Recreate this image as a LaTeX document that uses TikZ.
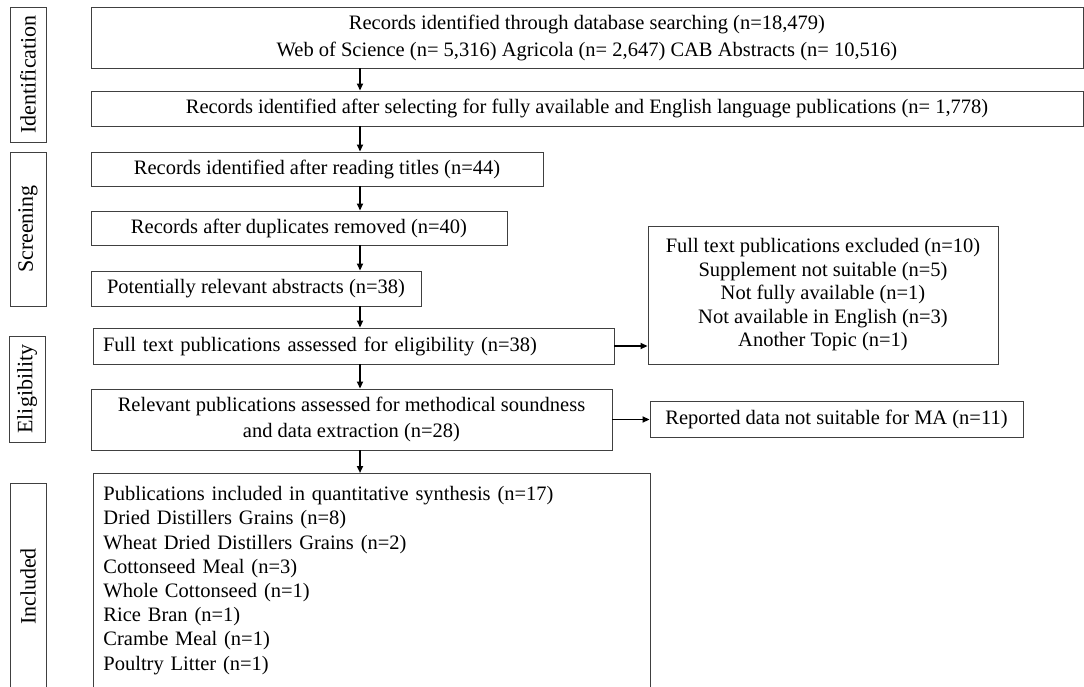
\documentclass[tikz,border=0pt]{standalone}
\usepackage{fontspec}
\setmainfont{Liberation Serif}
\usepackage{xcolor}
\usepackage{tikz}
\usetikzlibrary{arrows.meta,positioning}
\definecolor{boxline}{HTML}{404040}

\tikzset{
  flowbox/.style={draw=boxline, line width=0.9pt, inner sep=0pt, align=center,
    font=\fontsize{20.5}{23.5}\selectfont},
  leftbox/.style={flowbox, inner xsep=10pt, align=left},
  phasebox/.style={draw=boxline, line width=0.9pt, inner sep=0pt, rotate=90,
    minimum height=36pt, font=\fontsize{22}{24}\selectfont},
  flowarrow/.style={-{Triangle[length=7pt,width=6pt]}, line width=1.8pt}
}

\begin{document}
\begin{tikzpicture}[x=1pt, y=-1pt]
\path[use as bounding box, clip] (0,0) rectangle (1084,687);

% phase labels on the left
\node[phasebox, minimum width=135pt] (ident) at (28,74.5) {Identification};
\node[phasebox, minimum width=154pt] (screen) at (28,229) {Screening};
\node[phasebox, minimum width=106pt] (elig) at (27,389) {Eligibility};
\node[phasebox, minimum width=207pt] (incl) at (28,586.5) {Included};

% main column
\node[flowbox, minimum width=992pt, minimum height=61pt,
  font=\fontsize{20.5}{27}\selectfont] (rec) at (587,37.5)
  {Records identified through database searching (n=18,479)\\
   Web of Science (n= 5,316) Agricola (n= 2,647) CAB Abstracts (n= 10,516)};
\node[flowbox, minimum width=992pt, minimum height=35pt] (avail) at (587,108.5)
  {Records identified after selecting for fully available and English language publications (n= 1,778)};
\node[flowbox, minimum width=452pt, minimum height=34pt] (titles) at (317,169)
  {Records identified after reading titles (n=44)};
\node[flowbox, minimum width=416pt, minimum height=34pt] (dupl) at (299,228)
  {Records after duplicates removed (n=40)};
\node[flowbox, minimum width=330pt, minimum height=35pt] (abstr) at (256,288.5)
  {Potentially relevant abstracts (n=38)};
\node[leftbox, text width=501pt, minimum height=36pt] (full) at (353.5,346)
  {Full text publications assessed for eligibility (n=38)};
\node[flowbox, minimum width=521pt, minimum height=61pt,
  font=\fontsize{20.5}{26}\selectfont] (relev) at (351.5,419.5)
  {Relevant publications assessed for methodical soundness\\
   and data extraction (n=28)};
\node[leftbox, text width=537pt, inner ysep=13pt, anchor=north west,
  font=\fontsize{20.5}{24.2}\selectfont] (synth) at (93,473)
  {Publications included in quantitative synthesis (n=17)\\
   Dried Distillers Grains (n=8)\\
   Wheat Dried Distillers Grains (n=2)\\
   Cottonseed Meal (n=3)\\
   Whole Cottonseed (n=1)\\
   Rice Bran (n=1)\\
   Crambe Meal (n=1)\\
   Poultry Litter (n=1)\rule[-30pt]{0pt}{0pt}};

% exclusions on the right
\node[flowbox, minimum width=350pt, minimum height=138pt] (excl) at (823,295)
  {Full text publications excluded (n=10)\\
   Supplement not suitable (n=5)\\
   Not fully available (n=1)\\
   Not available in English (n=3)\\
   Another Topic (n=1)};
\node[flowbox, minimum width=373pt, minimum height=36pt] (ma) at (836.5,419)
  {Reported data not suitable for MA (n=11)};

% arrows
\coordinate (spine) at (360,0);
\draw[flowarrow] (rec.south -| spine) -- (avail.north -| spine);
\draw[flowarrow] (avail.south -| spine) -- (titles.north -| spine);
\draw[flowarrow] (titles.south -| spine) -- (dupl.north -| spine);
\draw[flowarrow] (dupl.south -| spine) -- (abstr.north -| spine);
\draw[flowarrow] (abstr.south -| spine) -- (full.north -| spine);
\draw[flowarrow] (full.south -| spine) -- (relev.north -| spine);
\draw[flowarrow] (relev.south -| spine) -- (synth.north -| spine);
\draw[flowarrow] (full.east) -- (excl.west |- full.east);
\draw[flowarrow] (relev.east) -- (ma.west |- relev.east);
\end{tikzpicture}
\end{document}
